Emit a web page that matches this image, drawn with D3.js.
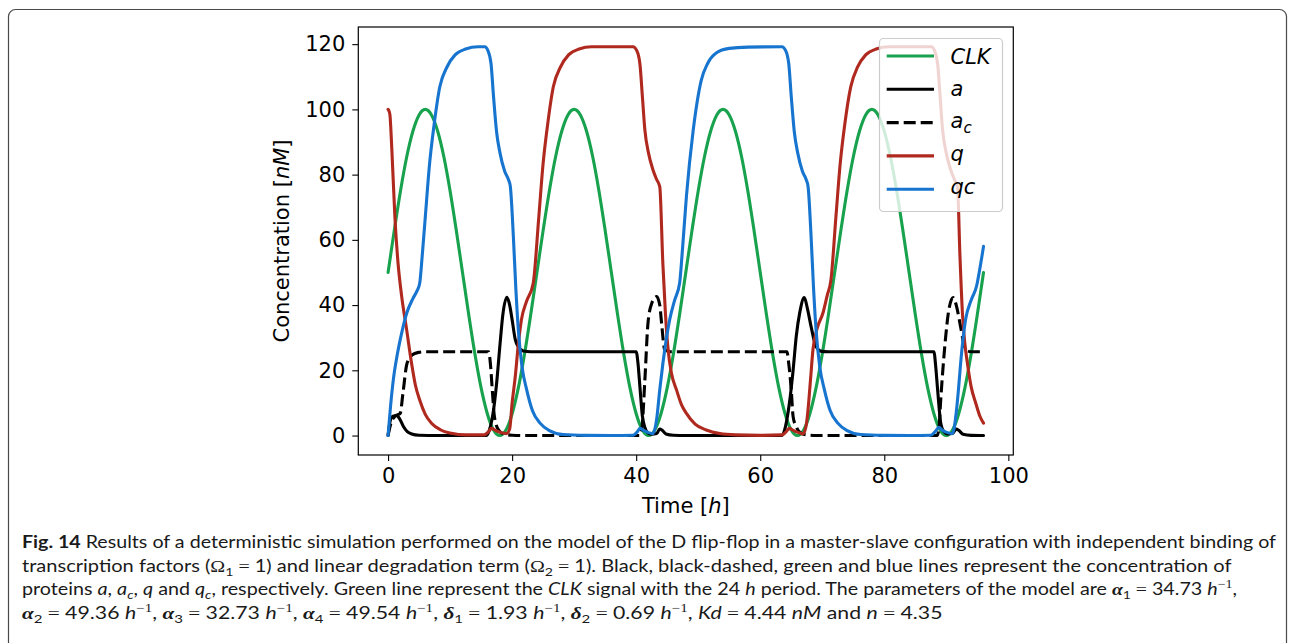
<!DOCTYPE html>
<html><head><meta charset="utf-8">
<script src="https://cdn.jsdelivr.net/npm/d3@7"></script>
<style>body{margin:0;background:#fff} svg{display:block}</style>
</head><body>
<svg id="c" width="1294" height="643"></svg>
<script>
// ---------------- data ----------------
const xTicks = [0, 20, 40, 60, 80, 100];
const yTicks = [0, 20, 40, 60, 80, 100, 120];
const seriesNames = ["CLK", "a", "a_c", "q", "qc"];

const clkT = [0,1,2,3,4,5,6,7,8,9,10,11,12,13,14,15,16,17,18,19,20,21,22,23,
  24,25,26,27,28,29,30,31,32,33,34,35,36,37,38,39,40,41,42,43,44,45,46,47,
  48,49,50,51,52,53,54,55,56,57,58,59,60,61,62,63,64,65,66,67,68,69,70,71,
  72,73,74,75,76,77,78,79,80,81,82,83,84,85,86,87,88,89,90,91,92,93,94,95,96];
const clkV = [50,62.9,75,85.4,93.3,98.3,100,98.3,93.3,85.4,75,62.9,50,37.1,25,14.6,6.7,1.7,0,1.7,6.7,14.6,25,37.1,
  50,62.9,75,85.4,93.3,98.3,100,98.3,93.3,85.4,75,62.9,50,37.1,25,14.6,6.7,1.7,0,1.7,6.7,14.6,25,37.1,
  50,62.9,75,85.4,93.3,98.3,100,98.3,93.3,85.4,75,62.9,50,37.1,25,14.6,6.7,1.7,0,1.7,6.7,14.6,25,37.1,
  50,62.9,75,85.4,93.3,98.3,100,98.3,93.3,85.4,75,62.9,50,37.1,25,14.6,6.7,1.7,0,1.7,6.7,14.6,25,37.1,50];

const aT = [0,0.2,0.47,0.8,1.4,1.9,2.5,3.1,3.8,5,8,15.8,16.3,17,17.5,18.05,18.5,19.15,19.6,20,20.5,21,21.8,23,
  40,40.3,40.6,41,41.4,41.9,42.5,43.3,43.8,44.2,44.8,46,48,63.5,63.9,64.7,65.3,65.8,66.4,67.1,67.6,68.2,69,69.9,71,
  88,88.3,88.6,89.1,89.6,90.2,91,91.6,92,92.7,94,96];
const aV = [0,3,5.3,5.9,6.1,5,2.7,1.2,0.5,0.1,0,0,1.5,7.8,16,28,37,42.4,40,35.5,29.5,27.2,25.9,25.7,
  25.7,22,15,6,2.5,0.8,0.4,0.6,2,1.6,0.5,0.1,0,0,1.5,9.9,20,30.3,38,42.3,39,33.4,27.3,25.8,25.7,
  25.7,21,14,3.8,1.2,0.5,0.6,2,1.6,0.4,0.05,0];

const acT = [0,0.5,1.16,1.96,2.4,3.04,3.85,4.9,6,16.2,16.5,16.8,17.1,17.4,17.9,18.6,20,22,
  40.5,40.9,41.4,41.9,42.5,43.3,43.8,44.1,44.6,45.6,64.3,64.6,65,65.3,65.8,66.5,67.5,69,
  88.5,88.8,89.1,89.9,90.4,91.1,91.6,92.3,93.1,94,96];
const acV = [0,4,6,6.8,13,22,24.7,25.5,25.7,25.7,22,14,6.5,3.5,1.5,0.5,0.1,0,
  0,2,17,34.4,40.5,42.6,40,34.4,26.3,25.7,25.7,22,14,5.8,2.7,0.8,0.2,0,
  0,2,11,30.3,38.5,42.3,40,33.4,26.3,25.7,25.7];

const qT = [0,0.15,0.3,0.6,1.1,1.6,2.2,3,3.8,4.4,5.1,6,7,8.5,10.2,12.5,15.5,16.2,16.7,17.3,18.2,19.1,
  19.6,20,20.5,21,21.5,22.3,23.4,24.3,25,25.7,26.65,27.8,29.1,30.8,32.8,
  39.5,40.1,40.6,41,41.4,42,42.7,43.3,43.8,44.3,44.7,45.1,45.7,46.5,47.3,48.1,49.5,51.3,53.5,56,60,
  63.5,64.2,64.7,65.3,66.2,66.9,67.4,67.7,68.1,68.5,69.2,70.1,70.8,71.4,72.2,72.9,73.6,74.6,75.7,77,78.7,80.7,
  87.6,88.1,88.6,89,89.4,90,90.7,91.3,91.8,92.2,92.6,93,93.4,94,94.75,95.4,96];
const qV = [100,99.5,98.3,88,67,53,42.6,32.4,22,15.5,10.9,6.5,3.8,1.7,0.7,0.2,0.2,1.2,2.2,1.6,0.9,0.6,
  2,10,18,28,35.5,41,46.7,67,83.5,95,107,113,116.7,118.5,119.2,
  119.2,118,114,104,93.7,86.5,81.5,78.5,76.3,52.8,38,27.3,19,14,9.5,6.8,3.5,1.7,0.6,0.2,0.05,
  0.2,1.2,2.2,1.6,0.9,0.5,3,7.8,17,26.3,33,37.5,43,47.7,67,83.5,95,107,113,116.7,118.5,119.2,
  119.2,118,114,104,93.7,86.5,81.5,78.5,76.3,55,37.5,28,22.2,15,9.9,6,3.8];

const qcT = [0,0.4,0.84,1.5,2.2,3,4,4.7,5.1,5.5,6,6.7,7.4,8.35,9.5,10.8,12.5,14.5,15.6,16.1,16.6,17,17.5,18.05,18.8,19.4,19.7,
  20.2,20.6,21,21.6,22.35,23.3,24.5,26,28.2,32,36,39.5,40.2,40.6,41.2,42,42.7,43.3,43.8,44.3,45.4,46.2,47,
  47.5,48.1,49.2,50.5,51.5,52.9,55,58,63.5,64.1,64.6,65,65.5,66.05,66.8,67.4,67.7,
  68.2,68.6,69,69.6,70.35,71.3,72.5,74,76.2,80,84,87.5,88.2,88.8,89.4,90.2,91,91.6,92,92.3,93.1,94,94.9,95.3,96];
const qcV = [0,9,17,25,31.5,37.5,42,44.5,46.7,55,67,83.5,95,107,113,116.7,118.5,119.2,119.2,118,114,104,93,86.6,81,78.5,76.5,
  61,45,32.4,21,14,7.5,3.8,1.5,0.3,0.05,0,0.1,1.2,2.2,1.6,0.9,0.6,5,14,22,35.5,41.5,46.7,
  58,73.3,93.7,109,114,117.3,118.7,119.1,119.2,118,114,104,93,86.6,81,78.5,76.5,
  61,45,32.4,21,14,7.5,3.8,1.5,0.3,0.05,0,0.1,1.2,2.5,1.6,0.9,0.6,7,15,22,35.5,41.5,46,50,58];

// caption (text runs with a style tag)
const caption = [
  [["b","Fig. 14"],["n"," Results of a deterministic simulation performed on the model of the D flip-flop in a master-slave configuration with independent binding of"]],
  [["n","transcription factors ("],["m","Ω"],["sub","1"],["m"," = "],["n","1) and linear degradation term ("],["m","Ω"],["sub","2"],["m"," = "],["n","1). Black, black-dashed, green and blue lines represent the concentration of"]],
  [["n","proteins "],["i","a"],["n",", "],["i","a"],["isub","c"],["n",", "],["i","q"],["n"," and "],["i","q"],["isub","c"],["n",", respectively. Green line represent the "],["i","CLK"],["n"," signal with the 24 "],["i","h"],["n"," period. The parameters of the model are "],["g","α"],["sub","1"],["m"," = "],["n","34.73 "],["i","h"],["sup","−1"],["n",","]],
  [["g","α"],["sub","2"],["m"," = "],["n","49.36 "],["i","h"],["sup","−1"],["n",", "],["g","α"],["sub","3"],["m"," = "],["n","32.73 "],["i","h"],["sup","−1"],["n",", "],["g","α"],["sub","4"],["m"," = "],["n","49.54 "],["i","h"],["sup","−1"],["n",", "],["g","δ"],["sub","1"],["m"," = "],["n","1.93 "],["i","h"],["sup","−1"],["n",", "],["g","δ"],["sub","2"],["m"," = "],["n","0.69 "],["i","h"],["sup","−1"],["n",", "],["i","Kd"],["m"," = "],["n","4.44 "],["i","nM"],["n"," and "],["i","n"],["m"," = "],["n","4.35"]]
];

// ---------------- layout / style ----------------
const svg = d3.select("#c");
const W = 1294, H = 643;
const plot = {l: 358.3, r: 1013.3, t: 27, b: 455};
const colors = {CLK: "#18a24e", a: "#000000", a_c: "#000000", q: "#b0291f", qc: "#1775cf"};

svg.append("rect").attr("width", W).attr("height", H).attr("fill", "#fff");
svg.append("rect").attr("x", 8.5).attr("y", 9.5).attr("width", 1278).attr("height", 720)
  .attr("rx", 7).attr("fill", "none").attr("stroke", "#4a4a4a").attr("stroke-width", 1.2);

const x = d3.scaleLinear().domain([-4.8, 100.8]).range([plot.l, plot.r]);
const y = d3.scaleLinear().domain([-5.965, 125.26]).range([plot.b, plot.t]);

const tickFont = "'DejaVu Sans', sans-serif";
const gx = svg.append("g").attr("transform", `translate(0,${plot.b})`)
  .call(d3.axisBottom(x).tickValues(xTicks).tickSize(6).tickPadding(7).tickFormat(d3.format("d")));
const gy = svg.append("g").attr("transform", `translate(${plot.l},0)`)
  .call(d3.axisLeft(y).tickValues(yTicks).tickSize(6).tickPadding(7).tickFormat(d3.format("d")));
[gx, gy].forEach(g => {
  g.select(".domain").remove();
  g.selectAll(".tick line").attr("stroke", "#000").attr("stroke-width", 1.1);
  g.selectAll(".tick text").attr("fill", "#000").style("font-family", tickFont).style("font-size", "21px");
});

const defs = svg.append("defs");
defs.append("clipPath").attr("id", "clip").append("rect")
  .attr("x", plot.l).attr("y", plot.t).attr("width", plot.r - plot.l).attr("height", plot.b - plot.t);

const line = d3.line().curve(d3.curveMonotoneX).x(d => x(d[0])).y(d => y(d[1]));
const zip = (T, V) => T.map((t, i) => [t, V[i]]);
const series = [
  {name: "CLK", pts: zip(clkT, clkV), dash: null},
  {name: "a", pts: zip(aT, aV), dash: null},
  {name: "a_c", pts: zip(acT, acV), dash: "12,5"},
  {name: "q", pts: zip(qT, qV), dash: null},
  {name: "qc", pts: zip(qcT, qcV), dash: null}
];
const gl = svg.append("g").attr("clip-path", "url(#clip)");
series.forEach(s => {
  gl.append("path").attr("d", line(s.pts)).attr("fill", "none")
    .attr("stroke", colors[s.name]).attr("stroke-width", 3.1)
    .attr("stroke-linejoin", "round").attr("stroke-linecap", s.dash ? "butt" : "round")
    .attr("stroke-dasharray", s.dash);
});

// frame
svg.append("rect").attr("x", plot.l).attr("y", plot.t).attr("width", plot.r - plot.l).attr("height", plot.b - plot.t)
  .attr("fill", "none").attr("stroke", "#000").attr("stroke-width", 1.2);

// axis labels
const xl = svg.append("text").attr("x", (plot.l + plot.r) / 2).attr("y", 513).attr("text-anchor", "middle")
  .style("font-family", tickFont).style("font-size", "21px");
xl.append("tspan").text("Time [");
xl.append("tspan").attr("font-style", "italic").text("h");
xl.append("tspan").text("]");
const yl = svg.append("text").attr("transform", `translate(289,${(plot.t + plot.b) / 2}) rotate(-90)`)
  .attr("text-anchor", "middle").style("font-family", tickFont).style("font-size", "21px");
yl.append("tspan").text("Concentration [");
yl.append("tspan").attr("font-style", "italic").text("nM");
yl.append("tspan").text("]");

// legend
const lg = svg.append("g");
lg.append("rect").attr("x", 879.5).attr("y", 38.5).attr("width", 123).attr("height", 173).attr("rx", 4)
  .attr("fill", "#fff").attr("fill-opacity", 0.8).attr("stroke", "#cccccc").attr("stroke-width", 1.2);
const rowY0 = 56, rowDy = 33.3;
const labelOff = {CLK: 8, a: 6.5, a_c: 5.5, q: 5, qc: 5};
series.forEach((s, i) => {
  const ry = rowY0 + i * rowDy;
  lg.append("line").attr("x1", 886.7).attr("x2", 934).attr("y1", ry).attr("y2", ry)
    .attr("stroke", colors[s.name]).attr("stroke-width", 3.1).attr("stroke-dasharray", s.dash);
  const t = lg.append("text").attr("x", 950.5).attr("y", ry + labelOff[s.name])
    .style("font-family", tickFont).style("font-size", "21px").attr("font-style", "italic");
  if (s.name === "a_c") {
    t.append("tspan").text("a");
    t.append("tspan").attr("dy", 5).style("font-size", "15px").text("c");
  } else t.text(s.name);
});

// caption
const capX = 22, capBase = [548, 571.5, 595, 619], capW = [1255, 1210, 1216, 921];
caption.forEach((runs, li) => {
  const t = svg.append("text").attr("x", 0).attr("y", 0)
    .style("font-family", "Lato, 'Open Sans', sans-serif").style("font-size", "17px").attr("fill", "#1a1a1a");
  let shift = 0;
  runs.forEach(([st, txt]) => {
    const sp = t.append("tspan").text(txt);
    let target = 0;
    if (st === "b") sp.attr("font-weight", "bold");
    if (st === "i") sp.attr("font-style", "italic");
    if (st === "m") sp.style("font-family", "'Liberation Serif', serif");
    if (st === "g") sp.style("font-family", "'Liberation Serif', serif").attr("font-style", "italic").attr("font-weight", "bold");
    if (st === "sub" || st === "isub") { target = 4; sp.style("font-size", "12px"); if (st === "isub") sp.attr("font-style", "italic"); }
    if (st === "sup") { target = -7; sp.style("font-size", "12px").style("font-family", "'Liberation Serif', serif"); }
    sp.attr("dy", target - shift);
    shift = target;
  });
  const w = t.node().getComputedTextLength();
  t.attr("transform", `translate(${capX},${capBase[li]}) scale(${capW[li] / w},1)`);
});
</script>
</body></html>
